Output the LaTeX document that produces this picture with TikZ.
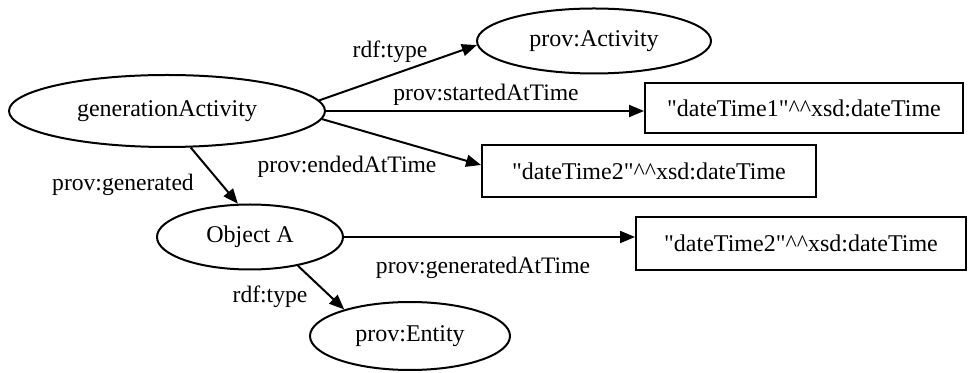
\documentclass[tikz,border=0pt]{standalone}
\usepackage{fontspec}
\setmainfont{Liberation Serif}[Ligatures=TeXOff]
\usetikzlibrary{shapes.geometric,arrows.meta}
\begin{document}
\begin{tikzpicture}[x=0.5pt,y=-0.5pt,
  ell/.style={draw,ellipse,line width=1pt,inner sep=0pt,font=\fontsize{12}{14}\selectfont},
  box/.style={draw,rectangle,line width=1pt,inner sep=0pt,font=\fontsize{12}{14}\selectfont},
  lbl/.style={inner sep=0pt,font=\fontsize{11.8}{13}\selectfont},
  edge/.style={line width=1pt,-{Triangle[length=7.5pt,width=6pt]}}]
\useasboundingbox (0,0) rectangle (968,373);
\node[ell,minimum width=158pt,minimum height=36pt] (gA) at (167,111) {generationActivity};
\node[ell,minimum width=117pt,minimum height=32.5pt] (pa) at (594,41) {prov:Activity};
\node[box,minimum width=159pt,minimum height=25pt] (dt1) at (804,108) {"dateTime1"\textasciicircum\textasciicircum xsd:dateTime};
\node[box,minimum width=167pt,minimum height=26pt] (dt2) at (649,171) {"dateTime2"\textasciicircum\textasciicircum xsd:dateTime};
\node[ell,minimum width=93pt,minimum height=32.5pt] (oa) at (250,237) {Object A};
\node[box,minimum width=165pt,minimum height=26.5pt] (dt3) at (801,243.5) {"dateTime2"\textasciicircum\textasciicircum xsd:dateTime};
\node[ell,minimum width=100pt,minimum height=34pt] (pe) at (410,336) {prov:Entity};

\node[lbl] (l1) at (390,52) {rdf:type};
\node[lbl] (l2) at (486,95) {prov:startedAtTime};
\node[lbl] (l3) at (347,167) {prov:endedAtTime};
\node[lbl] (l4) at (123,185) {prov:generated};
\node[lbl] (l5) at (483,268) {prov:generatedAtTime};
\node[lbl] (l6) at (270,297) {rdf:type};

\draw[edge] (gA.4) -- (pa.182);
\draw[edge] (gA.east) -- (gA.east -| dt1.west);
\draw[edge] (gA.-3) -- ([yshift=3pt]dt2.west);
\draw[edge] (gA.-57) -- (oa.110);
\draw[edge] (oa.east) -- (oa.east -| dt3.west);
\draw[edge] (oa.-31) -- (pe.158);
\end{tikzpicture}
\end{document}
